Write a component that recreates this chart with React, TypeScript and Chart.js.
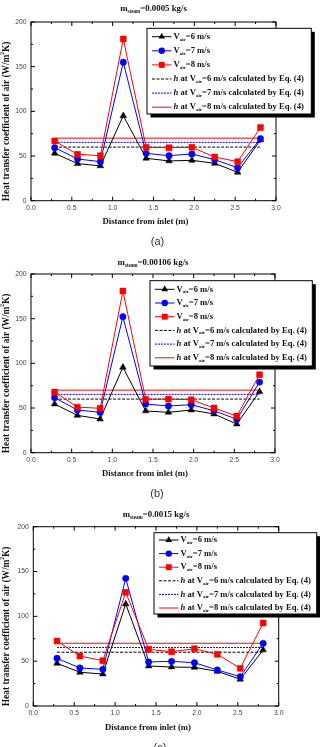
import React, { useEffect, useRef } from 'react';
import { Chart, registerables } from 'chart.js';

Chart.register(...registerables);

// Measurement positions along the tube (m)
const distance = [0.29, 0.57, 0.85, 1.13, 1.41, 1.69, 1.97, 2.25, 2.53, 2.81];

// Steam mass flow rates for the three cases (kg/s)
const steamFlows = ['0.0005', '0.00106', '0.0015'];
const captions = ['(a)', '(b)', '(c)'];

// Measured air-side heat transfer coefficients (W/m²K)
const hA_v6 = [53, 41.5, 39, 95, 47.5, 44.5, 45.2, 41.8, 31.8, 68];
const hA_v7 = [59.3, 46.7, 43.7, 155, 53, 50.4, 52.3, 45.9, 37, 69.5];
const hA_v8 = [66.8, 51.9, 50.4, 181, 59.8, 59.3, 59.8, 48.9, 43.7, 82];

const hB_v6 = [54.5, 41.8, 37.7, 95.6, 46.7, 45.2, 47.8, 43.3, 32.1, 68.3];
const hB_v7 = [61.6, 47.8, 45.2, 152.2, 54.5, 52.3, 53.7, 47, 37.4, 79];
const hB_v8 = [68, 51, 49.7, 181, 59.8, 60, 59.3, 50, 41, 87.3];

const hC_v6 = [47.6, 37.6, 35.7, 113.8, 44.6, 43.5, 43.1, 38.7, 29.8, 62.5];
const hC_v7 = [53.2, 42.4, 40.9, 142.4, 49.1, 49.8, 48.3, 40.2, 32.7, 69.9];
const hC_v8 = [72.5, 55.8, 50.5, 126.8, 63.2, 60.6, 63.9, 57.7, 42, 92.6];

// Values from Eq. (4) for each air velocity
const eqH = [60, 65.3, 70];

const measured = [
  [hA_v6, hA_v7, hA_v8],
  [hB_v6, hB_v7, hB_v8],
  [hC_v6, hC_v7, hC_v8],
];

// Axis ticks
const xMajor = [0, 0.5, 1, 1.5, 2, 2.5, 3];
const xTickLabels = ['0.0', '0.5', '1.0', '1.5', '2.0', '2.5', '3.0'];
const yMajor = [0, 50, 100, 150, 200];
const yTickLabels = ['0', '50', '100', '150', '200'];

const velocities = ['6', '7', '8'];

// Panel layout (canvas px)
const layouts = [
  { top: 0, area: { l: 31, t: 22, r: 276, b: 200.7 }, legend: { x: 147, y: 28.3, w: 164.3, h: 85.7, row0: 8.4, step: 14.1 }, titleY: 9 },
  { top: 250, area: { l: 31, t: 24, r: 275, b: 202.7 }, legend: { x: 150, y: 30.7, w: 162.3, h: 85.3, row0: 8.6, step: 13.7 }, titleY: 12.7 },
  { top: 497, area: { l: 33.3, t: 29.7, r: 278.7, b: 209 }, legend: { x: 154, y: 35.7, w: 162.7, h: 81.3, row0: 7.3, step: 13.6 }, titleY: 18 },
];

const CANVAS_W = 320;
const CANVAS_H = 250;

const SERIF = '"Liberation Serif", "Times New Roman", serif';
const SANS = '"Liberation Sans", Arial, sans-serif';

const seriesColors = ['#000000', '#0000ff', '#ff0000'];
const seriesStyles = ['triangle', 'circle', 'rect'] as const;
const seriesRadius = [3.8, 3.2, 4.2];
const eqDash = [[3, 1.5], [2, 1], []];

type Run = { t: string; k?: 'sub' | 'sup' | 'it' };

function runFont(size: number, k?: string) {
  if (k === 'sub' || k === 'sup') return `bold ${size * 0.58}px ${SERIF}`;
  if (k === 'it') return `italic bold ${size}px ${SERIF}`;
  return `bold ${size}px ${SERIF}`;
}

function drawRuns(ctx: CanvasRenderingContext2D, runs: Run[], x: number, y: number, size: number, align: 'left' | 'center') {
  let total = 0;
  const widths = runs.map((r) => {
    ctx.font = runFont(size, r.k);
    const w = ctx.measureText(r.t).width;
    total += w;
    return w;
  });
  let cx = align === 'center' ? x - total / 2 : x;
  ctx.textBaseline = 'middle';
  ctx.textAlign = 'left';
  runs.forEach((r, i) => {
    ctx.font = runFont(size, r.k);
    let dy = 0;
    if (r.k === 'sub') dy = size * 0.32;
    if (r.k === 'sup') dy = -size * 0.35;
    ctx.fillText(r.t, cx, y + dy);
    cx += widths[i];
  });
}

function drawMarker(ctx: CanvasRenderingContext2D, style: string, x: number, y: number, r: number, color: string) {
  ctx.fillStyle = color;
  ctx.beginPath();
  if (style === 'circle') {
    ctx.arc(x, y, r, 0, Math.PI * 2);
  } else if (style === 'rect') {
    const s = r * Math.SQRT1_2;
    ctx.rect(x - s, y - s, 2 * s, 2 * s);
  } else {
    const h = r * 1.5;
    ctx.moveTo(x, y - r);
    ctx.lineTo(x + h / Math.sqrt(3), y - r + h);
    ctx.lineTo(x - h / Math.sqrt(3), y - r + h);
    ctx.closePath();
  }
  ctx.fill();
}

function makeDecorPlugin(idx: number) {
  const lay = layouts[idx];
  return {
    id: 'panelDecor' + idx,
    afterDatasetsDraw(chart: any) {
      const ctx: CanvasRenderingContext2D = chart.ctx;
      const xs = chart.scales.x;
      const ys = chart.scales.y;
      const { left, right, top, bottom } = chart.chartArea;
      ctx.save();

      // frame
      ctx.strokeStyle = '#000';
      ctx.lineWidth = 1;
      ctx.strokeRect(left, top, right - left, bottom - top);

      // inward ticks on all four sides
      ctx.beginPath();
      for (let v = 0; v <= 3.0001; v += 0.25) {
        const px = xs.getPixelForValue(v);
        const len = Math.abs(v * 2 - Math.round(v * 2)) < 1e-6 ? 4 : 2;
        ctx.moveTo(px, bottom);
        ctx.lineTo(px, bottom - len);
        ctx.moveTo(px, top);
        ctx.lineTo(px, top + len);
      }
      for (let v = 0; v <= 200.001; v += 25) {
        const py = ys.getPixelForValue(v);
        const len = v % 50 === 0 ? 4 : 2;
        ctx.moveTo(left, py);
        ctx.lineTo(left + len, py);
        ctx.moveTo(right, py);
        ctx.lineTo(right - len, py);
      }
      ctx.stroke();

      // tick labels
      ctx.fillStyle = '#444';
      ctx.font = `6.8px ${SANS}`;
      ctx.textBaseline = 'middle';
      ctx.textAlign = 'center';
      xMajor.forEach((v, i) => {
        ctx.fillText(xTickLabels[i], xs.getPixelForValue(v), bottom + 7.3);
      });
      ctx.textAlign = 'right';
      yMajor.forEach((v, i) => {
        ctx.fillText(yTickLabels[i], left - 4.5, ys.getPixelForValue(v));
      });

      // axis titles and panel title
      ctx.fillStyle = '#111';
      const midX = (left + right) / 2;
      drawRuns(ctx, [{ t: 'Distance from inlet (m)' }], midX - 8, bottom + 21.3, 8.7, 'center');
      drawRuns(ctx, [{ t: 'm' }, { t: 'steam', k: 'sub' }, { t: '=' + steamFlows[idx] + ' kg/s' }], midX, lay.titleY, 8.8, 'center');
      ctx.save();
      ctx.translate(6.3, (top + bottom) / 2 + 10);
      ctx.rotate(-Math.PI / 2);
      drawRuns(ctx, [{ t: 'Heat transfer coefficient of air (W/m' }, { t: '2', k: 'sup' }, { t: 'K)' }], 0, 0, 9.4, 'center');
      ctx.restore();

      // legend with drop shadow
      const lg = lay.legend;
      ctx.fillStyle = '#000';
      ctx.fillRect(lg.x + 3.5, lg.y + 3.5, lg.w, lg.h);
      ctx.fillStyle = '#fff';
      ctx.fillRect(lg.x, lg.y, lg.w, lg.h);
      ctx.strokeStyle = '#000';
      ctx.lineWidth = 1;
      ctx.strokeRect(lg.x, lg.y, lg.w, lg.h);

      const x0 = lg.x + 5;
      const x1 = lg.x + 24.5;
      const tx = lg.x + 26.5;
      for (let r = 0; r < 6; r++) {
        const ry = lg.y + lg.row0 + r * lg.step;
        const s = r % 3;
        const col = seriesColors[s];
        ctx.strokeStyle = col;
        ctx.lineWidth = 1;
        ctx.setLineDash(r < 3 ? [] : eqDash[s]);
        ctx.beginPath();
        ctx.moveTo(x0, ry);
        ctx.lineTo(x1, ry);
        ctx.stroke();
        ctx.setLineDash([]);
        ctx.fillStyle = '#111';
        if (r < 3) {
          drawMarker(ctx, seriesStyles[s], (x0 + x1) / 2, ry, seriesRadius[s], col);
          ctx.fillStyle = '#111';
          drawRuns(ctx, [{ t: 'V' }, { t: 'air', k: 'sub' }, { t: '=' + velocities[s] + ' m/s' }], tx, ry, 8.6, 'left');
        } else {
          drawRuns(
            ctx,
            [{ t: 'h', k: 'it' }, { t: ' at V' }, { t: 'air', k: 'sub' }, { t: '=' + velocities[s] + ' m/s calculated by Eq. (4)' }],
            tx,
            ry,
            8.6,
            'left'
          );
        }
      }

      // panel caption
      ctx.fillStyle = '#333';
      ctx.font = `11px ${SANS}`;
      ctx.textAlign = 'center';
      ctx.textBaseline = 'middle';
      ctx.fillText(captions[idx], midX + 4, bottom + 41.5);

      ctx.restore();
    },
  };
}

function buildDatasets(idx: number) {
  const sets: any[] = [];
  measured[idx].forEach((vals, s) => {
    sets.push({
      label: 'V' + velocities[s],
      data: distance.map((x, i) => ({ x, y: vals[i] })),
      borderColor: seriesColors[s],
      backgroundColor: seriesColors[s],
      borderWidth: 1,
      pointStyle: seriesStyles[s],
      pointRadius: seriesRadius[s],
      pointBorderWidth: 0.5,
      tension: 0,
      order: 2 - s,
    });
  });
  eqH.forEach((h, s) => {
    sets.push({
      label: 'Eq' + velocities[s],
      data: [
        { x: distance[0], y: h },
        { x: distance[distance.length - 1], y: h },
      ],
      borderColor: seriesColors[s],
      borderWidth: 1,
      borderDash: eqDash[s],
      pointRadius: 0,
      order: 3 + s,
    });
  });
  return sets;
}

function Panel({ idx }: { idx: number }) {
  const ref = useRef<HTMLCanvasElement | null>(null);
  useEffect(() => {
    if (!ref.current) return;
    const lay = layouts[idx];
    const chart = new Chart(ref.current, {
      type: 'line',
      data: { datasets: buildDatasets(idx) },
      options: {
        animation: false,
        responsive: false,
        devicePixelRatio: 1,
        layout: {
          padding: {
            left: lay.area.l,
            top: lay.area.t,
            right: CANVAS_W - lay.area.r,
            bottom: CANVAS_H - lay.area.b,
          },
        },
        scales: {
          x: { type: 'linear', min: 0, max: 3, display: false },
          y: { type: 'linear', min: 0, max: 200, display: false },
        },
        plugins: {
          legend: { display: false },
          tooltip: { enabled: false },
          title: { display: false },
        },
      },
      plugins: [makeDecorPlugin(idx)],
    });
    return () => chart.destroy();
  }, [idx]);
  const lay = layouts[idx];
  return (
    <canvas
      ref={ref}
      width={CANVAS_W}
      height={CANVAS_H}
      style={{ position: 'absolute', left: 0, top: lay.top, width: CANVAS_W, height: CANVAS_H }}
    />
  );
}

export default function App() {
  return (
    <div style={{ position: 'absolute', left: 0, top: 0, width: 320, height: 747, background: '#fff', overflow: 'hidden' }}>
      <Panel idx={0} />
      <Panel idx={1} />
      <Panel idx={2} />
    </div>
  );
}
